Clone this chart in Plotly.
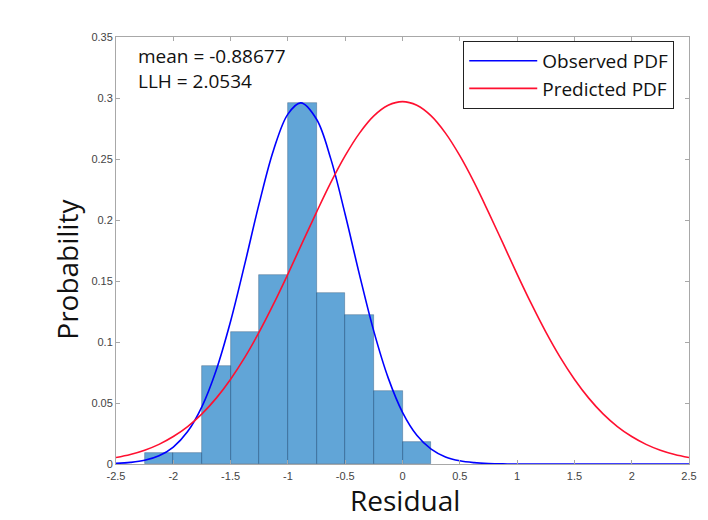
import plotly.graph_objects as go

# Histogram (probability-normalised), bin width 0.25
bin_centers = [-2.125, -1.875, -1.625, -1.375, -1.125, -0.875, -0.625, -0.375, -0.125, 0.125]
bin_probs = [0.009, 0.009, 0.080, 0.108, 0.155, 0.296, 0.140, 0.122, 0.060, 0.018]

# Observed PDF (blue)
obs_x = [-2.5, -2.375, -2.25, -2.125, -2.0, -1.875, -1.75, -1.625, -1.5, -1.375, -1.25, -1.125, -1.0,
         -0.887, -0.75, -0.625, -0.5, -0.375, -0.25, -0.125, 0.0, 0.125, 0.25, 0.375, 0.5, 0.625,
         0.75, 0.875, 1.0, 1.25, 1.5, 1.75, 2.0, 2.25, 2.5]
obs_y = [0.0005, 0.0013, 0.0030, 0.0067, 0.0139, 0.0266, 0.0471, 0.0771, 0.1170, 0.1644, 0.2138, 0.2574, 0.2868,
         0.2960, 0.2826, 0.2499, 0.2045, 0.1550, 0.1087, 0.0706, 0.0424, 0.0236, 0.0122, 0.0058, 0.0026, 0.0011,
         0.0004, 0.0001, 0.0, 0.0, 0.0, 0.0, 0.0, 0.0, 0.0]

# Predicted PDF (red)
pred_x = [-2.5, -2.375, -2.25, -2.125, -2.0, -1.875, -1.75, -1.625, -1.5, -1.375, -1.25, -1.125, -1.0,
          -0.875, -0.75, -0.625, -0.5, -0.375, -0.25, -0.125, 0.0, 0.125, 0.25, 0.375, 0.5, 0.625,
          0.75, 0.875, 1.0, 1.125, 1.25, 1.375, 1.5, 1.625, 1.75, 1.875, 2.0, 2.125, 2.25, 2.375, 2.5]
pred_y = [0.0053, 0.0078, 0.0113, 0.0161, 0.0225, 0.0307, 0.0411, 0.0540, 0.0695, 0.0876, 0.1083, 0.1312, 0.1557,
          0.1812, 0.2065, 0.2308, 0.2527, 0.2712, 0.2853, 0.2940, 0.2970, 0.2940, 0.2853, 0.2712, 0.2527, 0.2308,
          0.2065, 0.1812, 0.1557, 0.1312, 0.1083, 0.0876, 0.0695, 0.0540, 0.0411, 0.0307, 0.0225, 0.0161, 0.0113,
          0.0078, 0.0053]

x_ticks = [-2.5, -2, -1.5, -1, -0.5, 0, 0.5, 1, 1.5, 2, 2.5]
x_tick_text = ["-2.5", "-2", "-1.5", "-1", "-0.5", "0", "0.5", "1", "1.5", "2", "2.5"]
y_ticks = [0, 0.05, 0.1, 0.15, 0.2, 0.25, 0.3, 0.35]
y_tick_text = ["0", "0.05", "0.1", "0.15", "0.2", "0.25", "0.3", "0.35"]

stats_lines = ["mean = -0.88677", "LLH = 2.0534"]
x_title = "Residual"
y_title = "Probability"

TITLE_FONT = dict(family="Open Sans, sans-serif", size=28, color="#111111")

fig = go.Figure()
fig.add_trace(go.Bar(
    x=bin_centers, y=bin_probs, width=0.25,
    marker=dict(color="rgba(0,110,190,0.62)", line=dict(color="rgba(20,60,100,0.5)", width=0.7)),
    showlegend=False, hoverinfo="skip",
))
fig.add_trace(go.Scatter(
    x=obs_x, y=obs_y, mode="lines", name="Observed PDF",
    line=dict(color="#0000ff", width=1.6, shape="spline", smoothing=1.0),
))
fig.add_trace(go.Scatter(
    x=pred_x, y=pred_y, mode="lines", name="Predicted PDF",
    line=dict(color="#ff1030", width=1.6, shape="spline", smoothing=1.0),
))

axis_common = dict(
    showline=True, linecolor="#a8a8a8", linewidth=1, mirror="ticks",
    ticks="inside", ticklen=4, tickcolor="#a8a8a8", showgrid=False, zeroline=False,
    tickfont=dict(family="Liberation Sans, Arial, sans-serif", size=11, color="#444444"),
)

fig.update_layout(
    width=708, height=520,
    margin=dict(l=116, r=19, t=37, b=56),
    paper_bgcolor="white", plot_bgcolor="white",
    barmode="overlay", bargap=0,
    xaxis=dict(range=[-2.5, 2.5], tickvals=x_ticks, ticktext=x_tick_text,
               ticklabelstandoff=2, **axis_common),
    yaxis=dict(range=[0, 0.35], tickvals=y_ticks, ticktext=y_tick_text,
               **axis_common),
    legend=dict(x=0.606, y=0.991, xanchor="left", yanchor="top",
                bordercolor="#222222", borderwidth=1, bgcolor="white",
                font=dict(family="Open Sans, sans-serif", size=19, color="#111111"),
                tracegroupgap=0, itemwidth=68),
    showlegend=True,
)

fig.add_annotation(
    x=0.035, y=0.99, xref="paper", yref="paper", xanchor="left", yanchor="top",
    text="<br>".join(stats_lines), align="left", showarrow=False,
    font=dict(family="Open Sans, sans-serif", size=19, color="#111111"),
)
# axis titles
fig.add_annotation(
    x=0.504, y=0.0, xref="paper", yref="paper", xanchor="center", yanchor="top",
    yshift=-15, text=x_title, showarrow=False, font=TITLE_FONT,
)
fig.add_annotation(
    x=0.0, y=0.455, xref="paper", yref="paper", xanchor="center", yanchor="middle",
    xshift=-49, textangle=-90, text=y_title, showarrow=False, font=TITLE_FONT,
)

fig.write_html("out.html")
